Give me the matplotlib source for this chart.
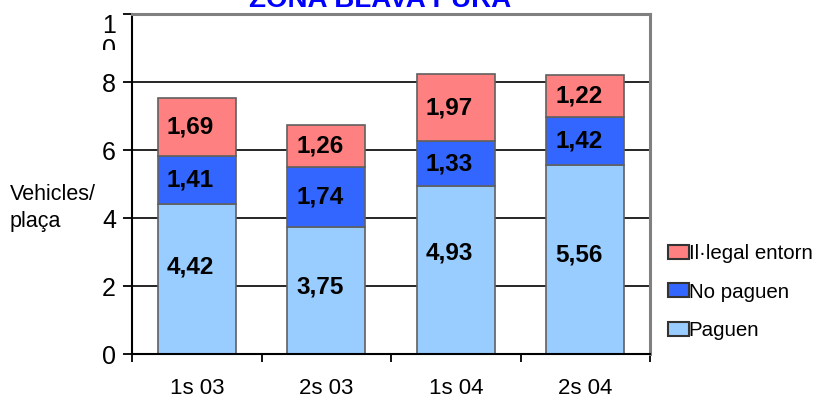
import matplotlib.pyplot as plt
from matplotlib.transforms import Bbox, TransformedBbox

# === Font ===
plt.rcParams['font.family'] = ['Liberation Sans', 'DejaVu Sans']

# === Data ===
periods = ["1s 03", "2s 03", "1s 04", "2s 04"]
paguen = [4.42, 3.75, 4.93, 5.56]
no_paguen = [1.41, 1.74, 1.33, 1.42]
illegal = [1.69, 1.26, 1.97, 1.22]
paguen_label_y = [2.57, 1.98, 2.98, 2.92]  # Excel placed these labels off-centre

# === Plot: Stacked Bars ===
x = range(len(periods))
bar_width = 0.6
bottom_2 = [paguen[i] for i in x]
bottom_3 = [paguen[i] + no_paguen[i] for i in x]

fig = plt.figure(figsize=(8.18, 4), dpi=100)
ax = fig.add_axes([0.1614, 0.115, 0.6333, 0.85])
plt.grid(axis='y', color='black', linewidth=1.2)
ax.set_axisbelow(True)
plt.bar(x, paguen, width=bar_width, color='#99CCFF', edgecolor='#606060', linewidth=1.2, label="Paguen")
plt.bar(x, no_paguen, width=bar_width, bottom=bottom_2, color='#3366FF', edgecolor='#606060', linewidth=1.2, label="No paguen")
plt.bar(x, illegal, width=bar_width, bottom=bottom_3, color='#FF8080', edgecolor='#606060', linewidth=1.2, label="Il·legal entorn")

# === Value Labels ===
dx = -0.05  # labels sit a little left of the bar centre
for i in x:
    plt.text(i + dx, paguen_label_y[i], f"{paguen[i]:.2f}".replace('.', ','), ha='center', va='center', fontsize=17.5, fontweight='bold')
    plt.text(i + dx, bottom_2[i] + no_paguen[i] / 2, f"{no_paguen[i]:.2f}".replace('.', ','), ha='center', va='center', fontsize=17.5, fontweight='bold')
    plt.text(i + dx, bottom_3[i] + illegal[i] / 2, f"{illegal[i]:.2f}".replace('.', ','), ha='center', va='center', fontsize=17.5, fontweight='bold')

# === Axes ===
plt.xlim(-0.5, 3.5)
plt.ylim(0, 10)
ax.set_xticks([-0.5, 0.5, 1.5, 2.5, 3.5])
ax.set_xticklabels([])
ax.set_xticks([i for i in x], periods, minor=True, fontsize=16)
ax.tick_params(axis='x', which='minor', length=0, pad=17)
ax.tick_params(axis='x', which='major', direction='out', length=6, width=1.3, colors='black')
plt.yticks([0, 2, 4, 6, 8, 10], ["0", "2", "4", "6", "8", "1\n0"], fontsize=18)
ax.tick_params(axis='y', direction='out', length=6.5, width=1.3, pad=5, colors='black')
top_label = ax.get_yticklabels()[-1]
top_label.set_verticalalignment('top')
top_label.set_linespacing(1.0)
top_label.set_clip_box(TransformedBbox(Bbox([[0.0, 0.875], [0.2, 1.0]]), fig.transFigure))
top_label.set_clip_on(True)
ax.spines['top'].set_color('#808080')
ax.spines['right'].set_color('#808080')
ax.spines['top'].set_linewidth(2.2)
ax.spines['right'].set_linewidth(2.2)
ax.spines['left'].set_linewidth(1.5)
ax.spines['bottom'].set_linewidth(1.5)

fig.text(0.012, 0.48, "Vehicles/\nplaça", fontsize=15.5, ha='left', va='center', linespacing=1.35)
fig.text(0.4645, 1 - 7 / 400, "ZONA BLAVA PURA", color='#0000FF', fontsize=20, fontweight='bold', ha='center', va='baseline')

# === Legend ===
handles, labels = ax.get_legend_handles_labels()
leg = fig.legend(handles[::-1], labels[::-1], loc='center left', bbox_to_anchor=(0.8166, 0.27),
                 frameon=False, fontsize=14.8, handlelength=1.0, handleheight=0.65, handletextpad=0.0,
                 labelspacing=0.95, borderpad=0, borderaxespad=0)
for h in leg.legend_handles:
    h.set_edgecolor('#333333')
    h.set_linewidth(1.5)

plt.savefig("out.png", dpi=100)
